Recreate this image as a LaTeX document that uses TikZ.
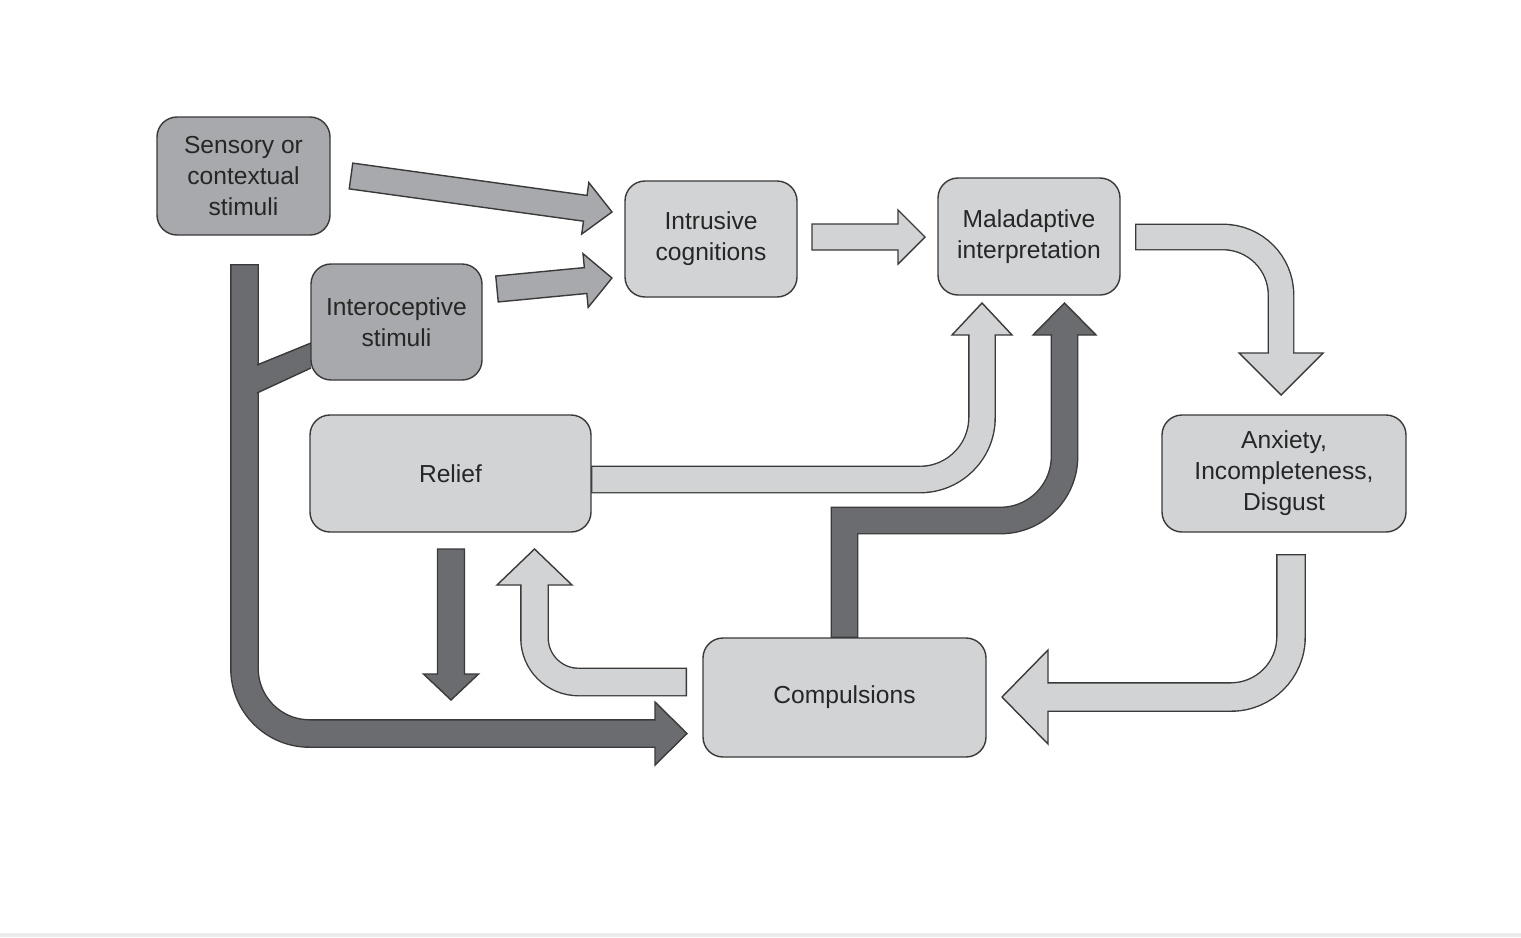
\documentclass[tikz,border=0pt]{standalone}
\usepackage{fontspec}
\setmainfont{Liberation Sans}
\usetikzlibrary{backgrounds}
\definecolor{outl}{HTML}{3A3A3A}
\definecolor{darkg}{HTML}{6B6C6F}
\definecolor{midg}{HTML}{A7A9AC}
\definecolor{lightg}{HTML}{D1D3D5}
\definecolor{txt}{HTML}{262626}
\def\pxu{0.02cm}
\def\olw{0.8pt}
\newcommand\shaft[3]{%
  \draw[draw=outl, line width=#2*\pxu+2*\olw] #3;
  \draw[draw=#1, line width=#2*\pxu, shorten <=\olw] #3;}
\begin{document}
\begin{tikzpicture}[x=0.02cm, y=-0.02cm,
  box/.style={draw=outl, line width=\olw, rounded corners=20*\pxu, align=center,
    text=txt, font=\fontsize{14}{17.6}\selectfont, inner sep=0pt},
  sz/.style 2 args={minimum width=#1*\pxu, minimum height=#2*\pxu},
  head/.style={fill=#1, draw=outl, line width=\olw, line join=miter}]
\useasboundingbox (0,0) rectangle (1521,937);

\node[box, fill=midg, sz={173}{118}] (sens) at (243.5,176) {Sensory or\\contextual\\stimuli};
\node[box, fill=midg, sz={171}{116}] (intero) at (396.5,322) {Interoceptive\\stimuli};
\node[box, fill=lightg, sz={172}{116}] (intr) at (711,239) {Intrusive\\cognitions};
\node[box, fill=lightg, sz={182}{117}] (mal) at (1029,236.5) {Maladaptive\\interpretation};
\node[box, fill=lightg, sz={281}{117}] (rel) at (450.5,473.5) {Relief};
\node[box, fill=lightg, sz={244}{117}] (anx) at (1284,473.5) {Anxiety,\\Incompleteness,\\Disgust};
\node[box, fill=lightg, sz={283}{119}] (comp) at (844.5,697.5) {Compulsions};

\begin{scope}[on background layer]
\fill[white] (0,0) rectangle (1521,937);
\fill[black!8] (0,933) rectangle (1521,937);

% Sensory -> Intrusive
\begin{scope}[shift={(351,176)}, rotate=-7.85]
\filldraw[head=midg] (0,-13) -- (236.5,-13) -- (236.5,-26) -- (263.5,0) -- (236.5,26) -- (236.5,13) -- (0,13) -- cycle;
\end{scope}
% Interoceptive -> Intrusive
\begin{scope}[shift={(497,289)}, rotate=5.46]
\filldraw[head=midg] (0,-13) -- (89,-13) -- (89,-27) -- (115.5,0) -- (89,27) -- (89,13) -- (0,13) -- cycle;
\end{scope}
% Intrusive -> Maladaptive
\filldraw[head=lightg] (812,224) -- (898,224) -- (898,210) -- (925,237) -- (898,264) -- (898,250) -- (812,250) -- cycle;

% Maladaptive -> Anxiety
\shaft{lightg}{24}{[rounded corners=58*\pxu] (1135,237) -- (1281,237) -- (1281,353)}
\filldraw[head=lightg] (1269,353) -- (1239,353) -- (1281,395) -- (1323,353) -- (1293,353);

% Anxiety -> Compulsions
\shaft{lightg}{27}{[rounded corners=60*\pxu] (1291,554) -- (1291,697) -- (1048,697)}
\filldraw[head=lightg] (1048,683.5) -- (1048,650) -- (1002,697) -- (1048,744) -- (1048,710.5);

% Relief -> Maladaptive
\shaft{lightg}{25}{[rounded corners=62*\pxu] (591,479.5) -- (982,479.5) -- (982,335)}
\filldraw[head=lightg] (969.5,335) -- (952,335) -- (982,303) -- (1012,335) -- (994.5,335);

% Compulsions -> Maladaptive
\shaft{darkg}{25}{(844.5,638) -- (844.5,520.5) -- (950,520.5) [rounded corners=64*\pxu] -- (1064.5,520.5) -- (1064.5,335)}
\filldraw[head=darkg] (1052,335) -- (1033,335) -- (1064.5,303) -- (1096,335) -- (1077,335);

% Relief -> Compulsions
\filldraw[head=darkg] (437.5,549) -- (464.5,549) -- (464.5,674) -- (478.5,674) -- (451,700) -- (423.5,674) -- (437.5,674) -- cycle;

% Compulsions -> Relief
\shaft{lightg}{26}{[rounded corners=44*\pxu] (687,682) -- (534.5,682) -- (534.5,585)}
\filldraw[head=lightg] (521.5,585) -- (497,585) -- (534.5,549) -- (572,585) -- (547.5,585);

% Stimuli -> Compulsions
\shaft{darkg}{26}{[rounded corners=65*\pxu] (244.5,264) -- (244.5,733.5) -- (655,733.5)}
\filldraw[head=darkg] (655,720.5) -- (655,702) -- (687,733.5) -- (655,765) -- (655,746.5);
% branch from Interoceptive
\fill[darkg] (256,365) -- (311,343) -- (311,368) -- (256,393) -- cycle;
\draw[outl, line width=\olw] (257,365) -- (311,343) (257,393) -- (311,368);
\end{scope}
\end{tikzpicture}
\end{document}
